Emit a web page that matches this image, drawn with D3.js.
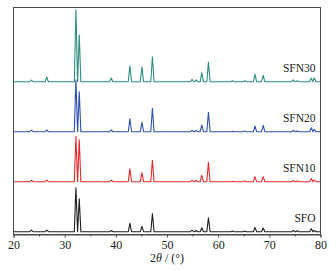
<!DOCTYPE html>
<html>
<head>
<meta charset="utf-8">
<script src="https://cdn.jsdelivr.net/npm/d3@7"></script>
<style>
  body { margin: 0; background: #fff; }
  text { font-family: "Liberation Serif", "Times New Roman", serif; fill: #222; }
</style>
</head>
<body>
<div id="main"></div>
<script>
// peak positions (2theta, degrees) shared by all samples
var peakPos = [23.5, 26.5, 32.2, 32.85, 39.1, 42.75, 45.1, 47.15, 54.9, 55.7,
               56.8, 58.1, 62.8, 65.2, 67.2, 68.8, 74.7, 75.5, 78.2, 78.8];

// peak heights (a.u.), one list per sample
var sfo   = [1.5, 1.5, 44, 33, 1.2, 8.3, 5.3, 18, 1.5, 1.2, 4, 14, 0.6, 0.7, 4.3, 3.7, 1.3, 1, 3, 1.2];
var sfn10 = [1.5, 1.5, 45.5, 42, 1.5, 13, 9, 21.5, 1.5, 1.3, 6.3, 19.5, 0.5, 0.7, 5, 5, 1.3, 0.8, 3.3, 1.5];
var sfn20 = [1.5, 1.7, 52, 40, 1.7, 13, 9.3, 23.5, 1.3, 1.3, 6.7, 19.5, 0.5, 0.7, 5.7, 6.3, 1.3, 0.8, 4, 2];
var sfn30 = [1.5, 4.7, 72, 47, 3.7, 16, 15, 25, 2.3, 1.7, 9, 19.3, 1, 1, 7.3, 6.3, 1.7, 1, 3.7, 3.7];

var names = ["SFO", "SFN10", "SFN20", "SFN30"];
var colors = ["#1e1e1e", "#e8292b", "#2d50b0", "#2f8c80"];
var xTicks = [20, 30, 40, 50, 60, 70, 80];
var xMinor = [25, 35, 45, 55, 65, 75];

var ctx = {
    w: 336,
    h: 271,
    margin: { top: 7.5, right: 15.5, bottom: 36.5, left: 13.5 },
    offset: 50,      // vertical stacking step, a.u.
    halfWidth: 0.32  // peak half width at base, degrees
};

var svg = d3.select("#main").append("svg")
    .attr("width", ctx.w)
    .attr("height", ctx.h);

var width = ctx.w - ctx.margin.left - ctx.margin.right;
var height = ctx.h - ctx.margin.top - ctx.margin.bottom;

var g = svg.append("g")
    .attr("transform", "translate(" + ctx.margin.left + "," + ctx.margin.top + ")");

var x = d3.scaleLinear().domain([20, 80]).range([0, width]);
var y = d3.scaleLinear().domain([-2.8, height - 2.8]).range([height, 0]);

// build a trace: flat baseline with a triangle at each peak
var buildTrace = function (heights) {
    var pts = [[20, 0]];
    peakPos.forEach(function (p, i) {
        pts.push([p - ctx.halfWidth, 0]);
        pts.push([p, heights[i]]);
        pts.push([p + ctx.halfWidth, 0]);
    });
    pts.push([80, 0]);
    return pts;
};

var line = d3.line()
    .x(function (d) { return x(d[0]); })
    .y(function (d) { return d[1]; });

[sfo, sfn10, sfn20, sfn30].forEach(function (series, k) {
    var off = k * ctx.offset;
    g.append("path")
        .datum(buildTrace(series))
        .attr("fill", "none")
        .attr("stroke", colors[k])
        .attr("stroke-width", 1.1)
        .attr("stroke-linejoin", "round")
        .attr("d", line.y(function (d) { return y(d[1] + off); }));
    g.append("text")
        .attr("x", width - 5)
        .attr("y", y(off) - 10)
        .attr("text-anchor", "end")
        .style("font-size", "11.5px")
        .text(names[k]);
});

// frame
g.append("rect")
    .attr("x", 0).attr("y", 0)
    .attr("width", width).attr("height", height)
    .attr("fill", "none")
    .attr("stroke", "#4a4a4a")
    .attr("stroke-width", 1);

var xAxis = g.append("g")
    .attr("transform", "translate(0," + height + ")")
    .call(d3.axisBottom(x).tickValues(xTicks).tickSize(3).tickPadding(3));
xAxis.select(".domain").attr("stroke", "#4a4a4a");
xAxis.selectAll(".tick line").attr("stroke", "#4a4a4a");
xAxis.selectAll("text")
    .style("font-size", "12px")
    .style("font-family", "Liberation Serif, serif")
    .attr("fill", "#222");

var xAxisMinor = g.append("g")
    .attr("transform", "translate(0," + height + ")")
    .call(d3.axisBottom(x).tickValues(xMinor).tickSize(2).tickFormat(""));
xAxisMinor.select(".domain").remove();
xAxisMinor.selectAll(".tick line").attr("stroke", "#4a4a4a");

var title = g.append("text")
    .attr("x", width / 2)
    .attr("y", height + 27.5)
    .attr("text-anchor", "middle")
    .style("font-size", "12px");
title.append("tspan").text("2");
title.append("tspan").style("font-style", "italic").text("θ");
title.append("tspan").text(" / (°)");
</script>
</body>
</html>
